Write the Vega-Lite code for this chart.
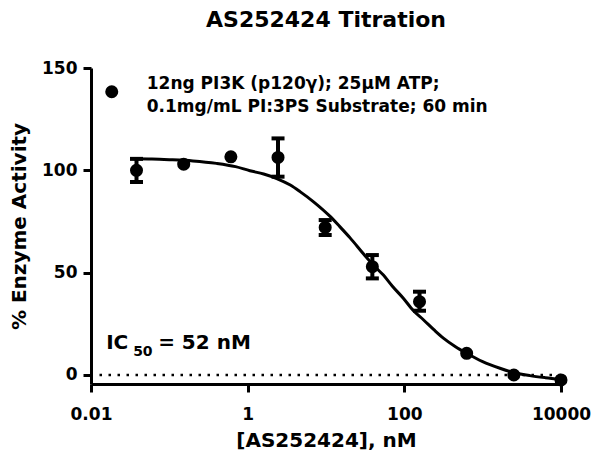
{
  "$schema": "https://vega.github.io/schema/vega-lite/v6.json",
  "width": 470,
  "height": 316,
  "autosize": "none",
  "padding": {"left": 91, "top": 68, "right": 31, "bottom": 70},
  "background": "white",
  "title": {
    "text": "AS252424 Titration",
    "font": "DejaVu Sans",
    "fontWeight": "bold",
    "fontSize": 22,
    "color": "black",
    "offset": 27,
    "anchor": "middle"
  },
  "config": {
    "view": {"stroke": null},
    "text": {"font": "DejaVu Sans", "fontWeight": "bold", "color": "black"},
    "axis": {
      "grid": false,
      "domainColor": "black",
      "domainWidth": 3,
      "tickColor": "black",
      "tickWidth": 3,
      "tickSize": 8,
      "labelFont": "DejaVu Sans",
      "labelFontWeight": "bold",
      "labelFontSize": 17,
      "labelColor": "black",
      "titleFont": "DejaVu Sans",
      "titleFontWeight": "bold",
      "titleFontSize": 20,
      "titleColor": "black"
    }
  },
  "datasets": {
    "obs": [
      {"conc": 0.0381, "mean": 100.0, "lo": 94.3, "hi": 105.6},
      {"conc": 0.1526, "mean": 103.0, "lo": null, "hi": null},
      {"conc": 0.6104, "mean": 106.6, "lo": null, "hi": null},
      {"conc": 2.441, "mean": 106.3, "lo": 96.9, "hi": 115.6},
      {"conc": 9.766, "mean": 72.1, "lo": 68.4, "hi": 75.7},
      {"conc": 39.06, "mean": 52.9, "lo": 47.2, "hi": 58.6},
      {"conc": 156.25, "mean": 35.8, "lo": 31.4, "hi": 40.7},
      {"conc": 625, "mean": 10.6, "lo": null, "hi": null},
      {"conc": 2500, "mean": 0.0, "lo": null, "hi": null},
      {"conc": 10000, "mean": -2.4, "lo": null, "hi": null}
    ],
    "fit": [
      {"conc": 0.035, "fit": 105.6},
      {"conc": 0.06, "fit": 105.5},
      {"conc": 0.1, "fit": 105.2},
      {"conc": 0.2, "fit": 104.6},
      {"conc": 0.4, "fit": 103.4},
      {"conc": 0.7, "fit": 101.8},
      {"conc": 1.07, "fit": 99.8},
      {"conc": 1.6, "fit": 98.2},
      {"conc": 2.35, "fit": 96.0},
      {"conc": 3.5, "fit": 92.8},
      {"conc": 4.66, "fit": 89.6},
      {"conc": 7, "fit": 84.5},
      {"conc": 11.2, "fit": 77.6},
      {"conc": 15, "fit": 72.5},
      {"conc": 20.3, "fit": 67.0},
      {"conc": 31.5, "fit": 58.3},
      {"conc": 42, "fit": 53.0},
      {"conc": 54, "fit": 48.8},
      {"conc": 70, "fit": 43.5},
      {"conc": 97, "fit": 37.5},
      {"conc": 130, "fit": 31.5},
      {"conc": 175, "fit": 27.0},
      {"conc": 240, "fit": 22.0},
      {"conc": 315, "fit": 18.0},
      {"conc": 450, "fit": 13.8},
      {"conc": 625, "fit": 10.6},
      {"conc": 1000, "fit": 6.5},
      {"conc": 1660, "fit": 3.3},
      {"conc": 2500, "fit": 1.2},
      {"conc": 4000, "fit": -0.3},
      {"conc": 6300, "fit": -1.3},
      {"conc": 10000, "fit": -2.1}
    ]
  },
  "layer": [
    {
      "data": {"name": "fit"},
      "mark": {"type": "line", "color": "black", "strokeWidth": 3, "interpolate": "monotone", "clip": false},
      "encoding": {
        "x": {
          "field": "conc",
          "type": "quantitative",
          "scale": {"type": "log", "domain": [0.01, 10000], "nice": false},
          "axis": {
            "values": [0.01, 1, 100, 10000],
            "labelExpr": "format(datum.value, '~g')",
            "labelPadding": 14,
            "titlePadding": 8,
            "labelFlush": false,
            "labelOverlap": false
          },
          "title": "[AS252424], nM"
        },
        "y": {
          "field": "fit",
          "type": "quantitative",
          "scale": {"domain": [-4.4, 150], "nice": false, "zero": false},
          "axis": {
            "values": [0, 50, 100, 150],
            "labelPadding": 6,
            "titlePadding": 12,
            "labelFlush": false
          },
          "title": "% Enzyme Activity"
        }
      }
    },
    {
      "data": {"values": [{}]},
      "mark": {"type": "rule", "color": "black", "strokeWidth": 2.5, "strokeDash": [2.5, 6.5]},
      "encoding": {
        "y": {"datum": 0, "type": "quantitative", "title": "% Enzyme Activity"}
      }
    },
    {
      "data": {"name": "obs"},
      "transform": [{"filter": "datum.lo != null"}],
      "mark": {"type": "rule", "color": "black", "strokeWidth": 4},
      "encoding": {
        "x": {"field": "conc", "type": "quantitative", "title": "[AS252424], nM"},
        "y": {"field": "lo", "type": "quantitative", "title": "% Enzyme Activity"},
        "y2": {"field": "hi"}
      }
    },
    {
      "data": {"name": "obs"},
      "transform": [{"filter": "datum.lo != null"}],
      "mark": {"type": "tick", "orient": "horizontal", "color": "black", "size": 13, "thickness": 4, "opacity": 1},
      "encoding": {
        "x": {"field": "conc", "type": "quantitative", "title": "[AS252424], nM"},
        "y": {"field": "lo", "type": "quantitative", "title": "% Enzyme Activity"}
      }
    },
    {
      "data": {"name": "obs"},
      "transform": [{"filter": "datum.hi != null"}],
      "mark": {"type": "tick", "orient": "horizontal", "color": "black", "size": 13, "thickness": 4, "opacity": 1},
      "encoding": {
        "x": {"field": "conc", "type": "quantitative", "title": "[AS252424], nM"},
        "y": {"field": "hi", "type": "quantitative", "title": "% Enzyme Activity"}
      }
    },
    {
      "data": {"name": "obs"},
      "mark": {"type": "point", "shape": "circle", "filled": true, "color": "black", "size": 170, "opacity": 1, "clip": false},
      "encoding": {
        "x": {"field": "conc", "type": "quantitative", "title": "[AS252424], nM"},
        "y": {"field": "mean", "type": "quantitative", "title": "% Enzyme Activity"}
      }
    },
    {
      "data": {"values": [{}]},
      "mark": {"type": "point", "shape": "circle", "filled": true, "color": "black", "size": 170, "opacity": 1},
      "encoding": {
        "x": {"datum": 0.0184, "type": "quantitative", "title": "[AS252424], nM"},
        "y": {"datum": 138.4, "type": "quantitative", "title": "% Enzyme Activity"}
      }
    },
    {
      "data": {"values": [{}]},
      "mark": {"type": "text", "align": "left", "baseline": "alphabetic", "dx": 35, "dy": -3, "fontSize": 17, "lineHeight": 23},
      "encoding": {
        "x": {"datum": 0.0184, "type": "quantitative", "title": "[AS252424], nM"},
        "y": {"datum": 138.4, "type": "quantitative", "title": "% Enzyme Activity"},
        "text": {"value": ["12ng PI3K (p120γ); 25µM ATP;", "0.1mg/mL PI:3PS Substrate; 60 min"]}
      }
    },
    {
      "data": {"values": [{}]},
      "mark": {"type": "text", "align": "left", "baseline": "alphabetic", "fontSize": 20},
      "encoding": {
        "x": {"datum": 0.0156, "type": "quantitative", "title": "[AS252424], nM"},
        "y": {"datum": 12.7, "type": "quantitative", "title": "% Enzyme Activity"},
        "text": {"value": "IC"}
      }
    },
    {
      "data": {"values": [{}]},
      "mark": {"type": "text", "align": "left", "baseline": "alphabetic", "fontSize": 14, "dx": 27, "dy": 7},
      "encoding": {
        "x": {"datum": 0.0156, "type": "quantitative", "title": "[AS252424], nM"},
        "y": {"datum": 12.7, "type": "quantitative", "title": "% Enzyme Activity"},
        "text": {"value": "50"}
      }
    },
    {
      "data": {"values": [{}]},
      "mark": {"type": "text", "align": "left", "baseline": "alphabetic", "fontSize": 20, "dx": 52},
      "encoding": {
        "x": {"datum": 0.0156, "type": "quantitative", "title": "[AS252424], nM"},
        "y": {"datum": 12.7, "type": "quantitative", "title": "% Enzyme Activity"},
        "text": {"value": "= 52 nM"}
      }
    }
  ]
}
